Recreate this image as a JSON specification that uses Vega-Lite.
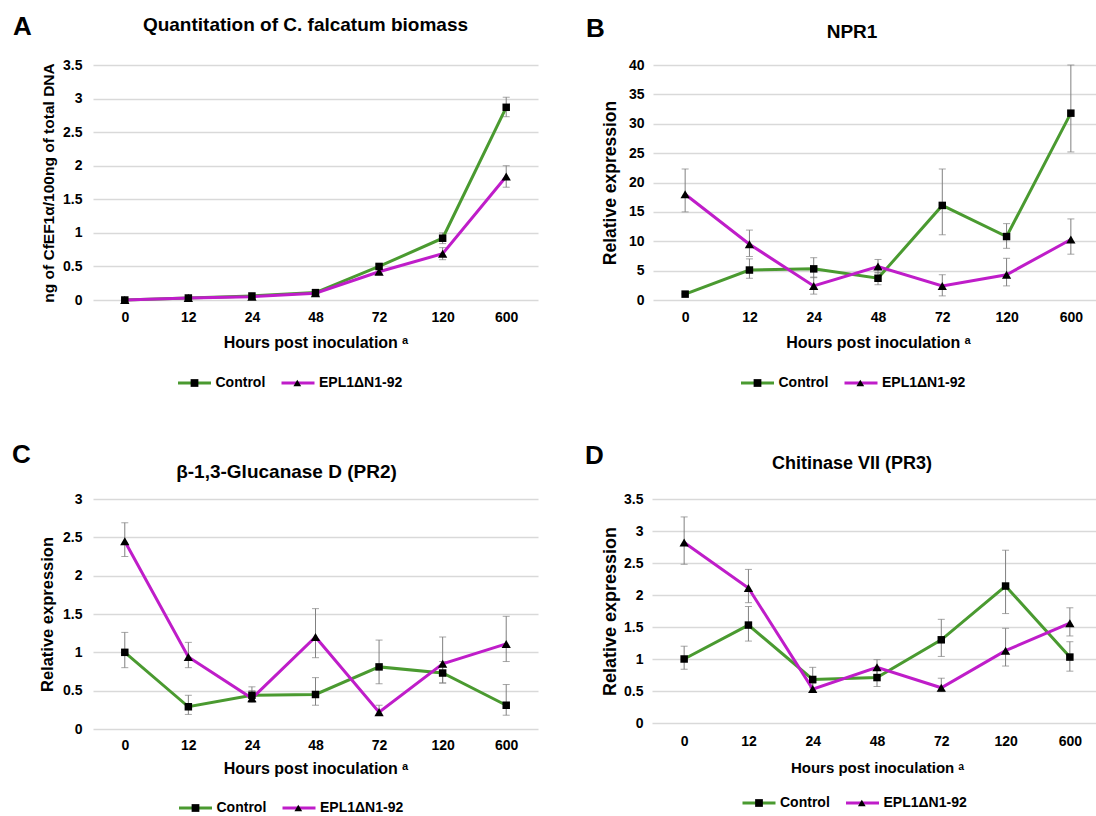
{
  "$schema": "https://vega.github.io/schema/vega-lite/v6.json",
  "padding": {"left": 12, "top": 14, "right": 0, "bottom": 0},
  "background": "white",
  "config": {
    "font": "Liberation Sans",
    "view": {"stroke": null},
    "axis": {"labelFont": "Liberation Sans", "labelFontWeight": "bold", "labelFontSize": 14, "labelColor": "#000", "titleFont": "Liberation Sans", "titleFontWeight": "bold", "titleFontSize": 16, "titleColor": "#000", "domain": false, "ticks": false, "gridColor": "#d9d9d9", "gridWidth": 1.6},
    "axisX": {"grid": false, "labelAngle": 0, "labelPadding": 10, "titlePadding": 10},
    "axisY": {"labelPadding": 11, "titlePadding": 6},
    "title": {"font": "Liberation Sans", "fontSize": 19, "fontWeight": "bold", "color": "#000", "frame": "group"},
    "legend": {"labelFont": "Liberation Sans", "labelFontSize": 14, "labelFontWeight": "bold", "labelColor": "#000", "padding": 0, "orient": "none", "direction": "horizontal"}
  },
  "datasets": {
    "dA": [
      {"h": "0", "s": "Control", "v": 0.0, "lo": 0.0, "hi": 0.01},
      {"h": "12", "s": "Control", "v": 0.03, "lo": 0.02, "hi": 0.04},
      {"h": "24", "s": "Control", "v": 0.06, "lo": 0.05, "hi": 0.07},
      {"h": "48", "s": "Control", "v": 0.11, "lo": 0.09, "hi": 0.13},
      {"h": "72", "s": "Control", "v": 0.5, "lo": 0.47, "hi": 0.53},
      {"h": "120", "s": "Control", "v": 0.92, "lo": 0.84, "hi": 1.0},
      {"h": "600", "s": "Control", "v": 2.87, "lo": 2.73, "hi": 3.02},
      {"h": "0", "s": "EPL1ΔN1-92", "v": 0.0, "lo": 0.0, "hi": 0.01},
      {"h": "12", "s": "EPL1ΔN1-92", "v": 0.03, "lo": 0.02, "hi": 0.04},
      {"h": "24", "s": "EPL1ΔN1-92", "v": 0.05, "lo": 0.04, "hi": 0.06},
      {"h": "48", "s": "EPL1ΔN1-92", "v": 0.1, "lo": 0.08, "hi": 0.12},
      {"h": "72", "s": "EPL1ΔN1-92", "v": 0.42, "lo": 0.39, "hi": 0.45},
      {"h": "120", "s": "EPL1ΔN1-92", "v": 0.69, "lo": 0.6, "hi": 0.78},
      {"h": "600", "s": "EPL1ΔN1-92", "v": 1.84, "lo": 1.68, "hi": 2.0}
    ],
    "dB": [
      {"h": "0", "s": "Control", "v": 1.0, "lo": 0.9, "hi": 1.1},
      {"h": "12", "s": "Control", "v": 5.1, "lo": 3.7, "hi": 7.0},
      {"h": "24", "s": "Control", "v": 5.3, "lo": 3.8, "hi": 7.2},
      {"h": "48", "s": "Control", "v": 3.7, "lo": 2.6, "hi": 4.7},
      {"h": "72", "s": "Control", "v": 16.1, "lo": 11.1, "hi": 22.3},
      {"h": "120", "s": "Control", "v": 10.8, "lo": 8.8, "hi": 13.0},
      {"h": "600", "s": "Control", "v": 31.8, "lo": 25.2, "hi": 40.0},
      {"h": "0", "s": "EPL1ΔN1-92", "v": 18.0, "lo": 15.0, "hi": 22.3},
      {"h": "12", "s": "EPL1ΔN1-92", "v": 9.5, "lo": 7.4, "hi": 11.9},
      {"h": "24", "s": "EPL1ΔN1-92", "v": 2.4, "lo": 1.0, "hi": 3.9},
      {"h": "48", "s": "EPL1ΔN1-92", "v": 5.7, "lo": 4.6, "hi": 6.9},
      {"h": "72", "s": "EPL1ΔN1-92", "v": 2.4, "lo": 0.7, "hi": 4.3},
      {"h": "120", "s": "EPL1ΔN1-92", "v": 4.3, "lo": 2.4, "hi": 7.1},
      {"h": "600", "s": "EPL1ΔN1-92", "v": 10.3, "lo": 7.8, "hi": 13.8}
    ],
    "dC": [
      {"h": "0", "s": "Control", "v": 1.0, "lo": 0.8, "hi": 1.26},
      {"h": "12", "s": "Control", "v": 0.29, "lo": 0.19, "hi": 0.44},
      {"h": "24", "s": "Control", "v": 0.44, "lo": 0.35, "hi": 0.55},
      {"h": "48", "s": "Control", "v": 0.45, "lo": 0.31, "hi": 0.67},
      {"h": "72", "s": "Control", "v": 0.81, "lo": 0.59, "hi": 1.16},
      {"h": "120", "s": "Control", "v": 0.73, "lo": 0.6, "hi": 0.88},
      {"h": "600", "s": "Control", "v": 0.31, "lo": 0.18, "hi": 0.58},
      {"h": "0", "s": "EPL1ΔN1-92", "v": 2.45, "lo": 2.25, "hi": 2.69},
      {"h": "12", "s": "EPL1ΔN1-92", "v": 0.94, "lo": 0.8, "hi": 1.13},
      {"h": "24", "s": "EPL1ΔN1-92", "v": 0.4, "lo": 0.35, "hi": 0.5},
      {"h": "48", "s": "EPL1ΔN1-92", "v": 1.2, "lo": 0.93, "hi": 1.57},
      {"h": "72", "s": "EPL1ΔN1-92", "v": 0.22, "lo": 0.18, "hi": 0.31},
      {"h": "120", "s": "EPL1ΔN1-92", "v": 0.85, "lo": 0.6, "hi": 1.2},
      {"h": "600", "s": "EPL1ΔN1-92", "v": 1.11, "lo": 0.88, "hi": 1.47}
    ],
    "dD": [
      {"h": "0", "s": "Control", "v": 1.0, "lo": 0.84, "hi": 1.2},
      {"h": "12", "s": "Control", "v": 1.53, "lo": 1.28, "hi": 1.82},
      {"h": "24", "s": "Control", "v": 0.68, "lo": 0.55, "hi": 0.87},
      {"h": "48", "s": "Control", "v": 0.71, "lo": 0.57, "hi": 0.85},
      {"h": "72", "s": "Control", "v": 1.3, "lo": 1.04, "hi": 1.62},
      {"h": "120", "s": "Control", "v": 2.14, "lo": 1.71, "hi": 2.7},
      {"h": "600", "s": "Control", "v": 1.03, "lo": 0.81, "hi": 1.27},
      {"h": "0", "s": "EPL1ΔN1-92", "v": 2.82, "lo": 2.48, "hi": 3.22},
      {"h": "12", "s": "EPL1ΔN1-92", "v": 2.11, "lo": 1.88, "hi": 2.4},
      {"h": "24", "s": "EPL1ΔN1-92", "v": 0.53, "lo": 0.48, "hi": 0.62},
      {"h": "48", "s": "EPL1ΔN1-92", "v": 0.87, "lo": 0.75, "hi": 0.99},
      {"h": "72", "s": "EPL1ΔN1-92", "v": 0.55, "lo": 0.49, "hi": 0.7},
      {"h": "120", "s": "EPL1ΔN1-92", "v": 1.13, "lo": 0.89, "hi": 1.48},
      {"h": "600", "s": "EPL1ΔN1-92", "v": 1.56, "lo": 1.36, "hi": 1.8}
    ]
  },
  "resolve": {"scale": {"color": "independent", "shape": "independent", "size": "independent"}, "legend": {"color": "independent", "shape": "independent"}},
  "spacing": 52,
  "vconcat": [
    {
      "spacing": 48,
      "resolve": {"scale": {"color": "independent", "shape": "independent", "size": "independent"}, "legend": {"color": "independent", "shape": "independent"}},
      "hconcat": [
        {
          "title": {"text": "A", "anchor": "start", "fontSize": 26, "dy": 24, "dx": -80, "offset": 0},
          "resolve": {"scale": {"color": "independent", "shape": "independent", "size": "independent"}, "legend": {"color": "independent", "shape": "independent"}},
          "vconcat": [
            {
              "width": 445, "height": 235,
              "title": {"text": "Quantitation of C. falcatum biomass", "offset": 23, "dx": -10},
              "data": {"name": "dA"},
              "encoding": {"x": {"field": "h", "type": "ordinal", "sort": ["0", "12", "24", "48", "72", "120", "600"], "scale": {"type": "point", "padding": 0.5}, "axis": {"title": "Hours post inoculation ᵃ"}}},
              "layer": [
                {"mark": {"type": "errorbar", "color": "#808080", "ticks": {"size": 7}, "rule": {"strokeWidth": 1}},
                 "encoding": {"y": {"field": "lo", "type": "quantitative", "scale": {"domain": [0, 3.5], "nice": false}, "axis": {"values": [0, 0.5, 1, 1.5, 2, 2.5, 3, 3.5], "format": "~f", "title": "ng of CfEF1α/100ng of total DNA", "titleFontSize": 15.5, "titlePadding": 6}}, "y2": {"field": "hi"}}},
                {"mark": {"type": "line", "strokeWidth": 3},
                 "encoding": {"y": {"field": "v", "type": "quantitative", "axis": {"values": [0, 0.5, 1, 1.5, 2, 2.5, 3, 3.5], "format": "~f", "title": "ng of CfEF1α/100ng of total DNA", "titleFontSize": 15.5, "titlePadding": 6}},
                   "color": {"field": "s", "type": "nominal", "scale": {"range": ["#4a9a30", "#bf1dc9"]}, "legend": {"title": null, "legendX": 83.5, "legendY": 300, "symbolType": "stroke", "symbolSize": 1089, "symbolStrokeWidth": 3, "labelOffset": 3, "columnPadding": 9.5}}}},
                {"mark": {"type": "point", "filled": true, "opacity": 1, "color": "#000"},
                 "encoding": {"y": {"field": "v", "type": "quantitative", "axis": {"values": [0, 0.5, 1, 1.5, 2, 2.5, 3, 3.5], "format": "~f", "title": "ng of CfEF1α/100ng of total DNA", "titleFontSize": 15.5, "titlePadding": 6}},
                   "size": {"field": "s", "type": "nominal", "scale": {"domain": ["EPL1ΔN1-92", "Control"], "range": [86, 56]}, "legend": null},
                   "shape": {"field": "s", "type": "nominal", "scale": {"domain": ["Control", "EPL1ΔN1-92"], "range": ["square", "triangle-up"]}, "legend": {"title": null, "legendX": 83.5, "legendY": 311, "symbolSize": 60, "symbolFillColor": "#000", "symbolStrokeWidth": 0, "symbolOffset": 11, "labelOffset": 25, "labelExpr": "''", "columnPadding": 52.8}}}}
              ]
            }
          ]
        },
        {
          "title": {"text": "B", "anchor": "start", "fontSize": 26, "dy": 19, "dx": -67, "offset": 0},
          "resolve": {"scale": {"color": "independent", "shape": "independent", "size": "independent"}, "legend": {"color": "independent", "shape": "independent"}},
          "vconcat": [
            {
              "width": 450, "height": 235,
              "title": {"text": "NPR1", "offset": 16, "dx": -26},
              "data": {"name": "dB"},
              "encoding": {"x": {"field": "h", "type": "ordinal", "sort": ["0", "12", "24", "48", "72", "120", "600"], "scale": {"type": "point", "padding": 0.5}, "axis": {"title": "Hours post inoculation ᵃ"}}},
              "layer": [
                {"mark": {"type": "errorbar", "color": "#808080", "ticks": {"size": 7}, "rule": {"strokeWidth": 1}},
                 "encoding": {"y": {"field": "lo", "type": "quantitative", "scale": {"domain": [0, 40], "nice": false}, "axis": {"values": [0, 5, 10, 15, 20, 25, 30, 35, 40], "title": "Relative expression", "titleFontSize": 17.5, "labelPadding": 9, "titlePadding": 9}}, "y2": {"field": "hi"}}},
                {"mark": {"type": "line", "strokeWidth": 3},
                 "encoding": {"y": {"field": "v", "type": "quantitative", "axis": {"values": [0, 5, 10, 15, 20, 25, 30, 35, 40], "title": "Relative expression", "titleFontSize": 17.5, "labelPadding": 9, "titlePadding": 9}},
                   "color": {"field": "s", "type": "nominal", "scale": {"range": ["#4a9a30", "#bf1dc9"]}, "legend": {"title": null, "legendX": 86.5, "legendY": 300, "symbolType": "stroke", "symbolSize": 1089, "symbolStrokeWidth": 3, "labelOffset": 3, "columnPadding": 9.5}}}},
                {"mark": {"type": "point", "filled": true, "opacity": 1, "color": "#000"},
                 "encoding": {"y": {"field": "v", "type": "quantitative", "axis": {"values": [0, 5, 10, 15, 20, 25, 30, 35, 40], "title": "Relative expression", "titleFontSize": 17.5, "labelPadding": 9, "titlePadding": 9}},
                   "size": {"field": "s", "type": "nominal", "scale": {"domain": ["EPL1ΔN1-92", "Control"], "range": [86, 56]}, "legend": null},
                   "shape": {"field": "s", "type": "nominal", "scale": {"domain": ["Control", "EPL1ΔN1-92"], "range": ["square", "triangle-up"]}, "legend": {"title": null, "legendX": 86.5, "legendY": 311, "symbolSize": 60, "symbolFillColor": "#000", "symbolStrokeWidth": 0, "symbolOffset": 11, "labelOffset": 25, "labelExpr": "''", "columnPadding": 52.8}}}}
              ]
            }
          ]
        }
      ]
    },
    {
      "spacing": 47,
      "resolve": {"scale": {"color": "independent", "shape": "independent", "size": "independent"}, "legend": {"color": "independent", "shape": "independent"}},
      "hconcat": [
        {
          "title": {"text": "C", "anchor": "start", "fontSize": 26, "dy": 5, "dx": -81, "offset": 0},
          "resolve": {"scale": {"color": "independent", "shape": "independent", "size": "independent"}, "legend": {"color": "independent", "shape": "independent"}},
          "vconcat": [
            {
              "width": 445, "height": 230,
              "title": {"text": "β-1,3-Glucanase D (PR2)", "offset": 10, "dx": -29},
              "data": {"name": "dC"},
              "encoding": {"x": {"field": "h", "type": "ordinal", "sort": ["0", "12", "24", "48", "72", "120", "600"], "scale": {"type": "point", "padding": 0.5}, "axis": {"title": "Hours post inoculation ᵃ", "labelPadding": 9, "titlePadding": 8}}},
              "layer": [
                {"mark": {"type": "errorbar", "color": "#808080", "ticks": {"size": 7}, "rule": {"strokeWidth": 1}},
                 "encoding": {"y": {"field": "lo", "type": "quantitative", "scale": {"domain": [0, 3], "nice": false}, "axis": {"values": [0, 0.5, 1, 1.5, 2, 2.5, 3], "format": "~f", "title": "Relative expression", "titleFontSize": 16.5, "titlePadding": 7}}, "y2": {"field": "hi"}}},
                {"mark": {"type": "line", "strokeWidth": 3},
                 "encoding": {"y": {"field": "v", "type": "quantitative", "axis": {"values": [0, 0.5, 1, 1.5, 2, 2.5, 3], "format": "~f", "title": "Relative expression", "titleFontSize": 16.5, "titlePadding": 7}},
                   "color": {"field": "s", "type": "nominal", "scale": {"range": ["#4a9a30", "#bf1dc9"]}, "legend": {"title": null, "legendX": 84.5, "legendY": 291, "symbolType": "stroke", "symbolSize": 1089, "symbolStrokeWidth": 3, "labelOffset": 3, "columnPadding": 9.5}}}},
                {"mark": {"type": "point", "filled": true, "opacity": 1, "color": "#000"},
                 "encoding": {"y": {"field": "v", "type": "quantitative", "axis": {"values": [0, 0.5, 1, 1.5, 2, 2.5, 3], "format": "~f", "title": "Relative expression", "titleFontSize": 16.5, "titlePadding": 7}},
                   "size": {"field": "s", "type": "nominal", "scale": {"domain": ["EPL1ΔN1-92", "Control"], "range": [86, 56]}, "legend": null},
                   "shape": {"field": "s", "type": "nominal", "scale": {"domain": ["Control", "EPL1ΔN1-92"], "range": ["square", "triangle-up"]}, "legend": {"title": null, "legendX": 84.5, "legendY": 302, "symbolSize": 60, "symbolFillColor": "#000", "symbolStrokeWidth": 0, "symbolOffset": 11, "labelOffset": 25, "labelExpr": "''", "columnPadding": 52.8}}}}
              ]
            }
          ]
        },
        {
          "title": {"text": "D", "anchor": "start", "fontSize": 26, "dy": 14, "dx": -67, "offset": 0},
          "resolve": {"scale": {"color": "independent", "shape": "independent", "size": "independent"}, "legend": {"color": "independent", "shape": "independent"}},
          "vconcat": [
            {
              "width": 450, "height": 224,
              "title": {"text": "Chitinase VII (PR3)", "offset": 19, "dx": -25, "fontSize": 18},
              "data": {"name": "dD"},
              "encoding": {"x": {"field": "h", "type": "ordinal", "sort": ["0", "12", "24", "48", "72", "120", "600"], "scale": {"type": "point", "padding": 0.5}, "axis": {"title": "Hours post inoculation ᵃ", "titleFontSize": 15, "labelPadding": 11, "titlePadding": 12}}},
              "layer": [
                {"mark": {"type": "errorbar", "color": "#808080", "ticks": {"size": 7}, "rule": {"strokeWidth": 1}},
                 "encoding": {"y": {"field": "lo", "type": "quantitative", "scale": {"domain": [0, 3.5], "nice": false}, "axis": {"values": [0, 0.5, 1, 1.5, 2, 2.5, 3, 3.5], "format": "~f", "title": "Relative expression", "titleFontSize": 18, "labelPadding": 9, "titlePadding": 4}}, "y2": {"field": "hi"}}},
                {"mark": {"type": "line", "strokeWidth": 3},
                 "encoding": {"y": {"field": "v", "type": "quantitative", "axis": {"values": [0, 0.5, 1, 1.5, 2, 2.5, 3, 3.5], "format": "~f", "title": "Relative expression", "titleFontSize": 18, "labelPadding": 9, "titlePadding": 4}},
                   "color": {"field": "s", "type": "nominal", "scale": {"range": ["#4a9a30", "#bf1dc9"]}, "legend": {"title": null, "legendX": 89, "legendY": 286, "symbolType": "stroke", "symbolSize": 1089, "symbolStrokeWidth": 3, "labelOffset": 3, "columnPadding": 9.5}}}},
                {"mark": {"type": "point", "filled": true, "opacity": 1, "color": "#000"},
                 "encoding": {"y": {"field": "v", "type": "quantitative", "axis": {"values": [0, 0.5, 1, 1.5, 2, 2.5, 3, 3.5], "format": "~f", "title": "Relative expression", "titleFontSize": 18, "labelPadding": 9, "titlePadding": 4}},
                   "size": {"field": "s", "type": "nominal", "scale": {"domain": ["EPL1ΔN1-92", "Control"], "range": [86, 56]}, "legend": null},
                   "shape": {"field": "s", "type": "nominal", "scale": {"domain": ["Control", "EPL1ΔN1-92"], "range": ["square", "triangle-up"]}, "legend": {"title": null, "legendX": 89, "legendY": 297, "symbolSize": 60, "symbolFillColor": "#000", "symbolStrokeWidth": 0, "symbolOffset": 11, "labelOffset": 25, "labelExpr": "''", "columnPadding": 52.8}}}}
              ]
            }
          ]
        }
      ]
    }
  ]
}
